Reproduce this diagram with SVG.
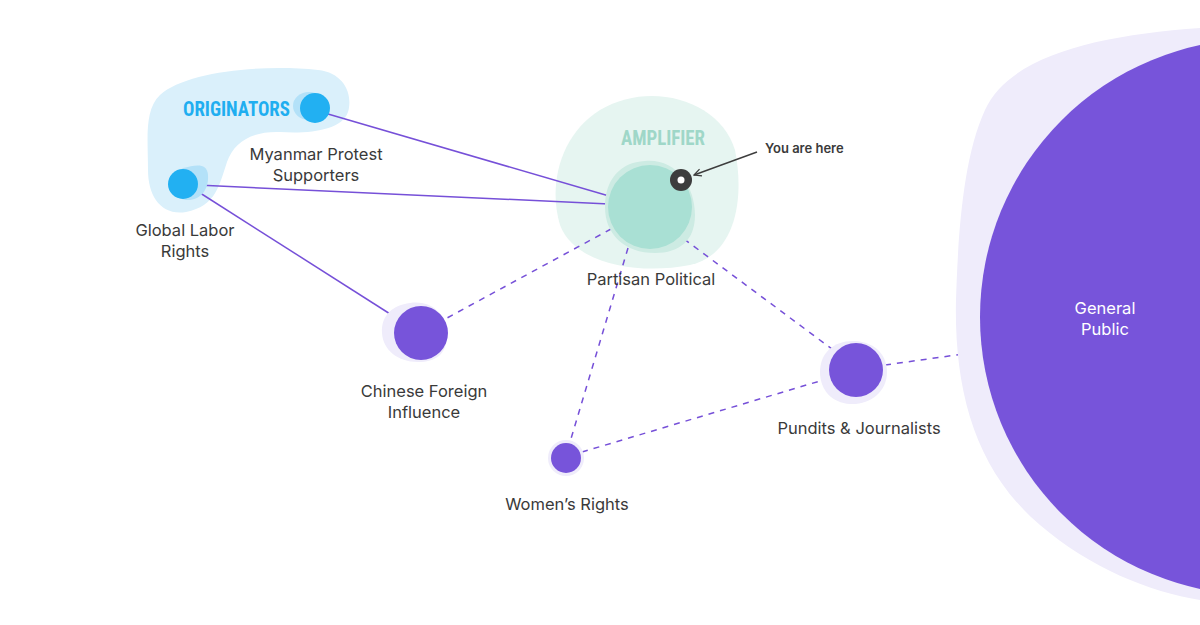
<svg xmlns="http://www.w3.org/2000/svg" width="1200" height="625" viewBox="0 0 1200 625">
<style>
.lbl{font-family:Inter,"Liberation Sans",sans-serif;font-size:16.5px;fill:#3a3a3a;text-anchor:middle}
.solid{stroke:#7650d8;stroke-width:1.5;fill:none}
.dash{stroke:#7650d8;stroke-width:1.5;fill:none;stroke-dasharray:6 6}
.blue{fill:#22b0f2}
.bhalo{fill:#b3e1f8}
.purple{fill:#7754da}
.phalo{fill:#efecfb}
.group{font-family:"Liberation Sans Narrow","Roboto Condensed","Liberation Sans",sans-serif;font-weight:bold;font-size:20px}
</style>
<defs>
<marker id="arr" viewBox="0 0 10 10" refX="9" refY="5" markerWidth="9" markerHeight="9" orient="auto" markerUnits="userSpaceOnUse">
<path d="M1 1 L9 5 L1 9" fill="none" stroke="#3d3d3d" stroke-width="1.4"/>
</marker>
</defs>
<rect width="1200" height="625" fill="#ffffff"/>
<g id="originators-area">
<path d="M160 95 C185 72 260 64 318 70 C345 73 353 95 348 112 C342 130 310 134 280 132 C252 131 234 142 227 162 C219 186 216 206 186 212 C161 216 148 196 148 170 C148 140 144 110 160 95 Z" fill="#daf0fb"/>
<text class="group" x="183" y="116" fill="#1faef0" textLength="107" lengthAdjust="spacingAndGlyphs">ORIGINATORS</text>
</g>
<g id="amplifier-area">
<path d="M600 110 C650 80 720 100 735 150 C745 200 735 255 690 265 C640 275 575 265 560 225 C548 185 560 135 600 110 Z" fill="#e6f5f1"/>
<text class="group" x="621" y="145" fill="#9fd7c8" textLength="84" lengthAdjust="spacingAndGlyphs">AMPLIFIER</text>
</g>
<g id="connectors">
<line class="solid" x1="328" y1="114" x2="609" y2="196"/>
<line class="solid" x1="197" y1="185" x2="609" y2="204"/>
<line class="solid" x1="197" y1="191" x2="398" y2="319"/>
<line class="dash" x1="611" y1="229" x2="447" y2="318"/>
<line class="dash" x1="628" y1="248" x2="570" y2="442"/>
<line class="dash" x1="684" y1="239" x2="836" y2="352"/>
<line class="dash" x1="582" y1="452" x2="830" y2="378"/>
<line class="dash" x1="885" y1="365" x2="978" y2="352"/>
<line x1="757" y1="152" x2="694" y2="175" stroke="#3d3d3d" stroke-width="1.4" marker-end="url(#arr)"/>
</g>
<g id="node-myanmar">
<ellipse class="bhalo" cx="309" cy="106" rx="16" ry="14"/>
<circle class="blue" cx="315" cy="108" r="15"/>
<text class="lbl" x="316" y="160">Myanmar Protest</text>
<text class="lbl" x="316" y="181">Supporters</text>
</g>
<g id="node-global-labor">
<path d="M183 168 C195 165 207 162 208 175 C209 190 200 200 188 200 C176 200 168 190 172 178 Z" class="bhalo"/>
<circle class="blue" cx="183" cy="184" r="15"/>
<text class="lbl" x="185" y="236">Global Labor</text>
<text class="lbl" x="185" y="257">Rights</text>
</g>
<g id="node-partisan">
<path d="M645 161 C675 158 695 185 695 215 C695 240 680 253 655 253 C625 253 605 235 605 207 C605 180 620 162 645 161 Z" fill="#cdebe3"/>
<circle cx="650" cy="207" r="42" fill="#a9e0d4"/>
<text class="lbl" x="651" y="285">Partisan Political</text>
</g>
<g id="you-are-here">
<circle cx="681" cy="180" r="11" fill="#3d3d3d"/>
<circle cx="681" cy="180" r="3.5" fill="#ffffff"/>
<text x="765" y="153" font-family="Inter,'Liberation Sans',sans-serif" font-weight="600" font-size="13" fill="#3a3a3a">You are here</text>
</g>
<g id="node-chinese">
<path d="M410 303 C430 300 445 312 447 332 C448 355 435 362 418 362 C398 362 383 350 382 333 C381 315 393 305 410 303 Z" class="phalo"/>
<circle class="purple" cx="421" cy="333" r="27"/>
<text class="lbl" x="424" y="397">Chinese Foreign</text>
<text class="lbl" x="424" y="418">Influence</text>
</g>
<g id="node-pundits">
<path d="M855 341 C875 342 887 355 887 372 C887 392 870 405 850 404 C832 403 820 390 820 372 C820 352 835 340 855 341 Z" class="phalo"/>
<circle class="purple" cx="856" cy="370" r="27"/>
<text class="lbl" x="859" y="434">Pundits &amp; Journalists</text>
</g>
<g id="node-womens">
<circle class="phalo" cx="566" cy="458" r="18"/>
<circle class="purple" cx="566" cy="458" r="15"/>
<text class="lbl" x="567" y="510">Women’s Rights</text>
</g>
<g id="node-general-public">
<path d="M1200 28 C1100 35 1010 55 985 110 C962 160 958 240 956 300 C954 390 975 470 1040 525 C1090 568 1150 592 1200 600 Z" class="phalo"/>
<circle class="purple" cx="1258" cy="317" r="278"/>
<text x="1105" y="314" font-family="Inter,'Liberation Sans',sans-serif" font-size="16.5" fill="#ffffff" text-anchor="middle">General</text>
<text x="1105" y="335" font-family="Inter,'Liberation Sans',sans-serif" font-size="16.5" fill="#ffffff" text-anchor="middle">Public</text>
</g>
</svg>
